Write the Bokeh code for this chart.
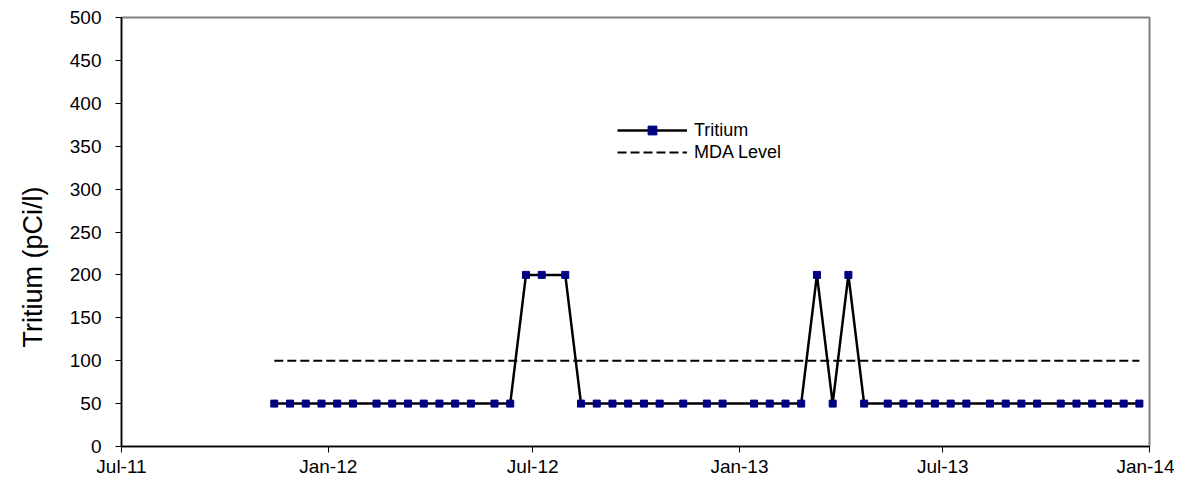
import pandas as pd
from bokeh.plotting import figure
from bokeh.models import Range1d, FixedTicker, DatetimeTickFormatter, ColumnDataSource, Title
from bokeh.embed import file_html
from bokeh.resources import INLINE

# ---- data ----
sample_dates = [
    "2011-11-14", "2011-11-28", "2011-12-12", "2011-12-26", "2012-01-09", "2012-01-23",
    "2012-02-13", "2012-02-27", "2012-03-12", "2012-03-26", "2012-04-09", "2012-04-23",
    "2012-05-07", "2012-05-28", "2012-06-11", "2012-06-25", "2012-07-09", "2012-07-30",
    "2012-08-13", "2012-08-27", "2012-09-10", "2012-09-24", "2012-10-08", "2012-10-22",
    "2012-11-12", "2012-12-03", "2012-12-17", "2013-01-14", "2013-01-28", "2013-02-11",
    "2013-02-25", "2013-03-11", "2013-03-25", "2013-04-08", "2013-04-22", "2013-05-13",
    "2013-05-27", "2013-06-10", "2013-06-24", "2013-07-08", "2013-07-22", "2013-08-12",
    "2013-08-26", "2013-09-09", "2013-09-23", "2013-10-14", "2013-10-28", "2013-11-11",
    "2013-11-25", "2013-12-09", "2013-12-23",
]
tritium = [
    50, 50, 50, 50, 50, 50,
    50, 50, 50, 50, 50, 50,
    50, 50, 50, 200, 200, 200,
    50, 50, 50, 50, 50, 50,
    50, 50, 50, 50, 50, 50,
    50, 200, 50, 200, 50, 50,
    50, 50, 50, 50, 50, 50,
    50, 50, 50, 50, 50, 50,
    50, 50, 50,
]
mda_dates = ["2011-11-14", "2013-12-23"]
mda_level = [100, 100]
tick_dates = ["2011-07-01", "2012-01-01", "2012-07-01", "2013-01-01", "2013-07-01", "2014-01-01"]
y_ticks = [0, 50, 100, 150, 200, 250, 300, 350, 400, 450, 500]
y_title = "Tritium (pCi/l)"

FONT = "Liberation Sans"

src = ColumnDataSource(dict(x=pd.to_datetime(sample_dates), y=tritium))
mda_src = ColumnDataSource(dict(x=pd.to_datetime(mda_dates), y=mda_level))
tick_ms = [pd.Timestamp(d).value / 1e6 for d in tick_dates]

p = figure(
    width=1174, height=473, output_backend="svg", toolbar_location=None,
    x_axis_type="datetime",
    x_range=Range1d(tick_ms[0], tick_ms[-1]),
    y_range=Range1d(0, 500),
    min_border_left=121, min_border_right=25, min_border_top=17, min_border_bottom=27,
)
p.frame_width = 1028
p.frame_height = 429

p.line("x", "y", source=src, line_color="black", line_width=2.5, legend_label="Tritium")
p.scatter("x", "y", source=src, marker="square", size=7, fill_color="#000080",
          line_color="#000080", legend_label="Tritium")
p.line("x", "y", source=mda_src, line_color="black", line_width=2, line_dash="9 4",
       legend_label="MDA Level")

p.xgrid.visible = False
p.ygrid.visible = False
p.outline_line_color = "#808080"
p.outline_line_width = 2

p.xaxis.ticker = FixedTicker(ticks=tick_ms)
p.xaxis.formatter = DatetimeTickFormatter(days="%b-%y", months="%b-%y", years="%b-%y")
p.yaxis.ticker = FixedTicker(ticks=y_ticks)

for ax in (p.xaxis, p.yaxis):
    ax.axis_line_color = "black"
    ax.axis_line_width = 1.5
    ax.major_tick_line_color = "black"
    ax.major_tick_in = 0
    ax.major_tick_out = 6
    ax.minor_tick_line_color = None
    ax.major_label_text_font = FONT
    ax.major_label_text_font_size = "19px"
    ax.major_label_text_color = "black"

p.xaxis.major_label_standoff = 3
p.yaxis.major_label_standoff = 14

# y-axis title, placed like the original (slightly below the frame's middle)
p.add_layout(Title(
    text=y_title, align="left", offset=99, standoff=34, vertical_align="top",
    text_font=FONT, text_font_size="27px", text_font_style="normal", text_color="black",
), "left")

leg = p.legend[0]
leg.location = (496, 283)
leg.border_line_color = None
leg.background_fill_alpha = 0
leg.padding = 0
leg.margin = 0
leg.spacing = 0
leg.glyph_width = 70
leg.glyph_height = 22
leg.label_height = 22
leg.label_standoff = 7
leg.label_text_font = FONT
leg.label_text_font_size = "18px"
leg.label_text_color = "black"

open("out.html", "w").write(file_html(p, INLINE))
